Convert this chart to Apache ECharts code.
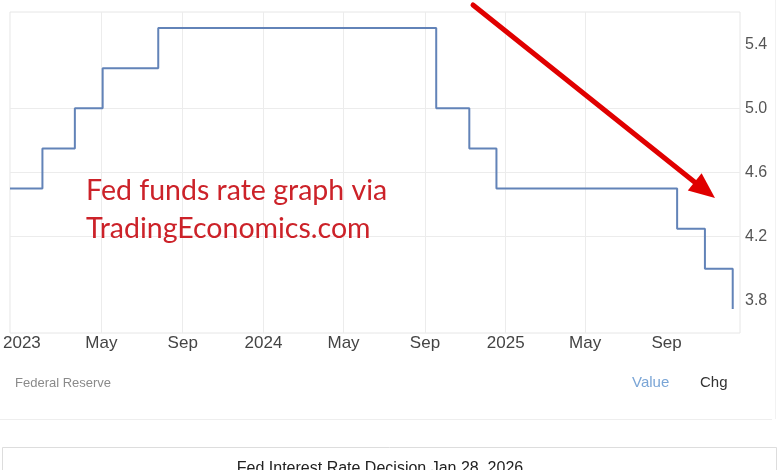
<!DOCTYPE html>
<html>
<head>
<meta charset="utf-8">
<script src="https://cdn.jsdelivr.net/npm/echarts@6/dist/echarts.min.js"></script>
<style>
html,body{margin:0;padding:0;background:#fff;}
#chart{width:780px;height:470px;}
</style>
</head>
<body>
<div id="chart"></div>
<script>
// Fed funds rate decisions (upper bound, %)
const decisionDates = ['2022-12-14','2023-02-01','2023-03-22','2023-05-03','2023-07-26','2024-09-18','2024-11-07','2024-12-18','2025-09-17','2025-10-29','2025-12-10'];
const rateValues = [4.5, 4.75, 5.0, 5.25, 5.5, 5.0, 4.75, 4.5, 4.25, 4.0, 3.75];
const xTickDates = ['2023-01-01','2023-05-01','2023-09-01','2024-01-01','2024-05-01','2024-09-01','2025-01-01','2025-05-01','2025-09-01'];
const xTickLabels = ['2023','May','Sep','2024','May','Sep','2025','May','Sep'];
const yTickValues = [3.8, 4.2, 4.6, 5.0, 5.4];
const xRange = ['2022-12-14','2025-12-21'];
const yRange = [3.6, 5.6];

function ts(s){const p=s.split('-').map(Number);return Date.UTC(p[0],p[1]-1,p[2]);}
const xTickTs = xTickDates.map(ts);
const seriesData = decisionDates.map((d,i)=>[ts(d), rateValues[i]]);

const chart = echarts.init(document.getElementById('chart'), null, {renderer:'canvas'});
const gridColor = '#ececec';
chart.setOption({
  animation:false,
  backgroundColor:'#fff',
  grid:{left:8,right:40,top:12,bottom:137,show:true,borderColor:'#e6e6e6',borderWidth:1,containLabel:false},
  xAxis:{
    type:'value',
    min:ts(xRange[0]), max:ts(xRange[1]),
    axisLine:{show:false},
    axisTick:{show:false, customValues:xTickTs},
    axisLabel:{
      customValues:xTickTs,
      margin:2,
      fontFamily:'Liberation Sans, Arial, sans-serif',
      fontSize:17,
      color:'#444',
      formatter:function(v){
        let best=0,bd=Infinity;
        xTickTs.forEach((t,k)=>{const dd=Math.abs(t-v); if(dd<bd){bd=dd;best=k;}});
        return xTickLabels[best];
      }
    },
    splitLine:{show:true,showMinLine:false,showMaxLine:false,lineStyle:{color:gridColor,width:1}}
  },
  yAxis:{
    type:'value',
    position:'right',
    min:yRange[0], max:yRange[1],
    axisLine:{show:false},
    axisTick:{show:false, customValues:yTickValues},
    axisLabel:{
      customValues:yTickValues,
      margin:5,
      fontFamily:'Liberation Sans, Arial, sans-serif',
      fontSize:16,
      color:'#555',
      formatter:function(v){return (Math.round(v*10)/10).toFixed(1);}
    },
    splitLine:{show:true,showMinLine:false,showMaxLine:false,lineStyle:{color:gridColor,width:1}}
  },
  series:[{
    type:'line',
    step:'end',
    data:seriesData,
    symbol:'none',
    lineStyle:{color:'#6283b8',width:2},
    clip:true
  }],
  graphic:[
    {type:'line',z:100,shape:{x1:0,y1:419.5,x2:772,y2:419.5},style:{stroke:'#eeeeee',lineWidth:1},silent:true},
    {type:'line',z:100,shape:{x1:775.5,y1:0,x2:775.5,y2:419},style:{stroke:'#f2f2f2',lineWidth:1},silent:true},
    {type:'rect',z:100,shape:{x:2.5,y:447.5,width:774,height:40},style:{fill:'#fff',stroke:'#dddddd',lineWidth:1},silent:true},
    {type:'text',z:101,style:{x:380,y:461,text:'Fed Interest Rate Decision Jan 28, 2026',font:'16px "Liberation Sans", Arial, sans-serif',fill:'#222',align:'center',verticalAlign:'top'},silent:true},
    {type:'text',z:100,style:{x:15,y:383,text:'Federal Reserve',font:'13px "Liberation Sans Narrow", "Liberation Sans", Arial, sans-serif',fill:'#8a8a8a',align:'left',verticalAlign:'middle'},silent:true},
    {type:'text',z:100,style:{x:632,y:383,text:'Value',font:'15px "Liberation Sans", Arial, sans-serif',fill:'#7aa5d6',align:'left',verticalAlign:'middle'},silent:true},
    {type:'text',z:100,style:{x:700,y:383,text:'Chg',font:'15px "Liberation Sans", Arial, sans-serif',fill:'#333',align:'left',verticalAlign:'middle'},silent:true},
    {type:'text',z:100,style:{x:86,y:191,text:'Fed funds rate graph via',font:'28.5px Lato, "Open Sans", sans-serif',fill:'#cc2229',align:'left',verticalAlign:'middle'},silent:true},
    {type:'text',z:100,style:{x:86,y:229,text:'TradingEconomics.com',font:'28.5px Lato, "Open Sans", sans-serif',fill:'#cc2229',align:'left',verticalAlign:'middle'},silent:true},
    {type:'line',z:100,shape:{x1:473,y1:5,x2:697,y2:184},style:{stroke:'#e00000',lineWidth:5,lineCap:'round'},silent:true},
    {type:'polygon',z:100,shape:{points:[[715,198],[687.8,190.4],[701.6,173.2]]},style:{fill:'#e00000'},silent:true}
  ]
});
</script>
</body>
</html>
